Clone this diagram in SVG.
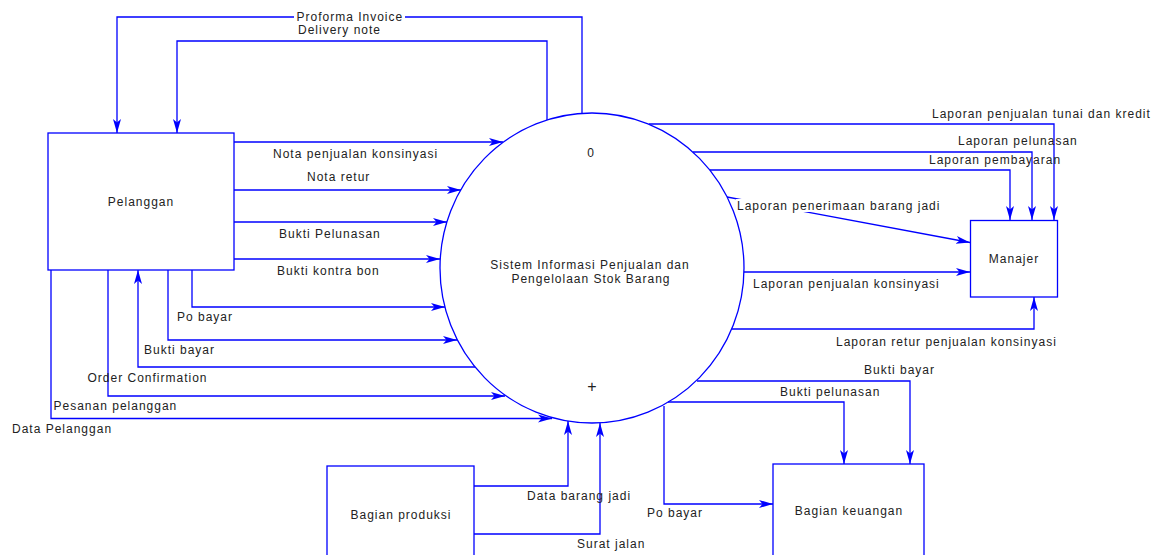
<svg xmlns="http://www.w3.org/2000/svg" width="1163" height="555" viewBox="0 0 1163 555">
<defs>
<marker id="arr" markerUnits="userSpaceOnUse" markerWidth="16" markerHeight="10" refX="14" refY="5" orient="auto">
<path d="M0,1 L14,5 L0,9 L3.5,5 z" fill="#0000ff"/>
</marker>
</defs>
<style>
.box{fill:#fff;stroke:#0000ff;stroke-width:1.3}
.c{fill:none;stroke:#0000ff;stroke-width:1.3;marker-end:url(#arr)}
text{font-family:"Liberation Sans",Arial,sans-serif;font-size:12px;fill:#222;letter-spacing:1px}
.m{text-anchor:middle}
</style>
<rect width="1163" height="555" fill="#fff"/>
<g id="connectors">
<path class="c" d="M582,113 V17 H117 V133"/>
<path class="c" d="M547,120 V41 H177 V133"/>
<path class="c" d="M234,142 H503"/>
<path class="c" d="M234,190 H461"/>
<path class="c" d="M234,222 H447"/>
<path class="c" d="M234,259 H440"/>
<path class="c" d="M192,270 V307 H445"/>
<path class="c" d="M168,270 V340 H457"/>
<path class="c" d="M475,367 H138 V270"/>
<path class="c" d="M108,270 V396 H505"/>
<path class="c" d="M51,270 V418.5 H552"/>
<path class="c" d="M649,124 H1054 V220"/>
<path class="c" d="M693,152 H1032 V220"/>
<path class="c" d="M710,170 H1010 V220"/>
<path class="c" d="M727,197 L970,242.5"/>
<path class="c" d="M744,272 H970"/>
<path class="c" d="M732,329 H1034 V297"/>
<path class="c" d="M697,381 H910 V464"/>
<path class="c" d="M668,402 H844 V464"/>
<path class="c" d="M664,406 V504 H773"/>
<path class="c" d="M474,486 H568 V421"/>
<path class="c" d="M474,534 H600 V423"/>
<rect x="294" y="11" width="111" height="13" fill="#fff"/>
<rect x="736" y="199" width="212" height="13" fill="#fff"/>
<text x="296.5" y="21">Proforma Invoice</text>
<text x="298" y="34">Delivery note</text>
<text x="273" y="158">Nota penjualan konsinyasi</text>
<text x="307" y="181">Nota retur</text>
<text x="279" y="238">Bukti Pelunasan</text>
<text x="277" y="275">Bukti kontra bon</text>
<text x="177" y="321">Po bayar</text>
<text x="144" y="354">Bukti bayar</text>
<text x="87.5" y="382">Order Confirmation</text>
<text x="53.5" y="410">Pesanan pelanggan</text>
<text x="12" y="433">Data Pelanggan</text>
<text x="932" y="118">Laporan penjualan tunai dan kredit</text>
<text x="958" y="145">Laporan pelunasan</text>
<text x="929" y="164">Laporan pembayaran</text>
<text x="737" y="210">Laporan penerimaan barang jadi</text>
<text x="753" y="288">Laporan penjualan konsinyasi</text>
<text x="836" y="346">Laporan retur penjualan konsinyasi</text>
<text x="864" y="374">Bukti bayar</text>
<text x="780" y="396">Bukti pelunasan</text>
<text x="527" y="500">Data barang jadi</text>
<text x="577" y="548">Surat jalan</text>
<text x="647" y="517">Po bayar</text>
</g>
<g id="process0">
<ellipse cx="592" cy="268" rx="152" ry="155" fill="none" stroke="#0000ff" stroke-width="1.3"/>
<text class="m" x="591" y="157">0</text>
<text class="m" x="590" y="269">Sistem Informasi Penjualan dan</text>
<text class="m" x="591" y="283">Pengelolaan Stok Barang</text>
<text class="m" x="592" y="392" style="font-size:16px;letter-spacing:0">+</text>
</g>
<g id="pelanggan">
<rect class="box" x="48" y="133" width="186" height="137"/>
<text class="m" x="141" y="206">Pelanggan</text>
</g>
<g id="manajer">
<rect class="box" x="970.5" y="220.5" width="87" height="76.5"/>
<text class="m" x="1014" y="263">Manajer</text>
</g>
<g id="bagian-produksi">
<rect class="box" x="327" y="466" width="147" height="100"/>
<text class="m" x="401" y="519">Bagian produksi</text>
</g>
<g id="bagian-keuangan">
<rect class="box" x="773" y="464" width="151" height="100"/>
<text class="m" x="849" y="515">Bagian keuangan</text>
</g>
</svg>
